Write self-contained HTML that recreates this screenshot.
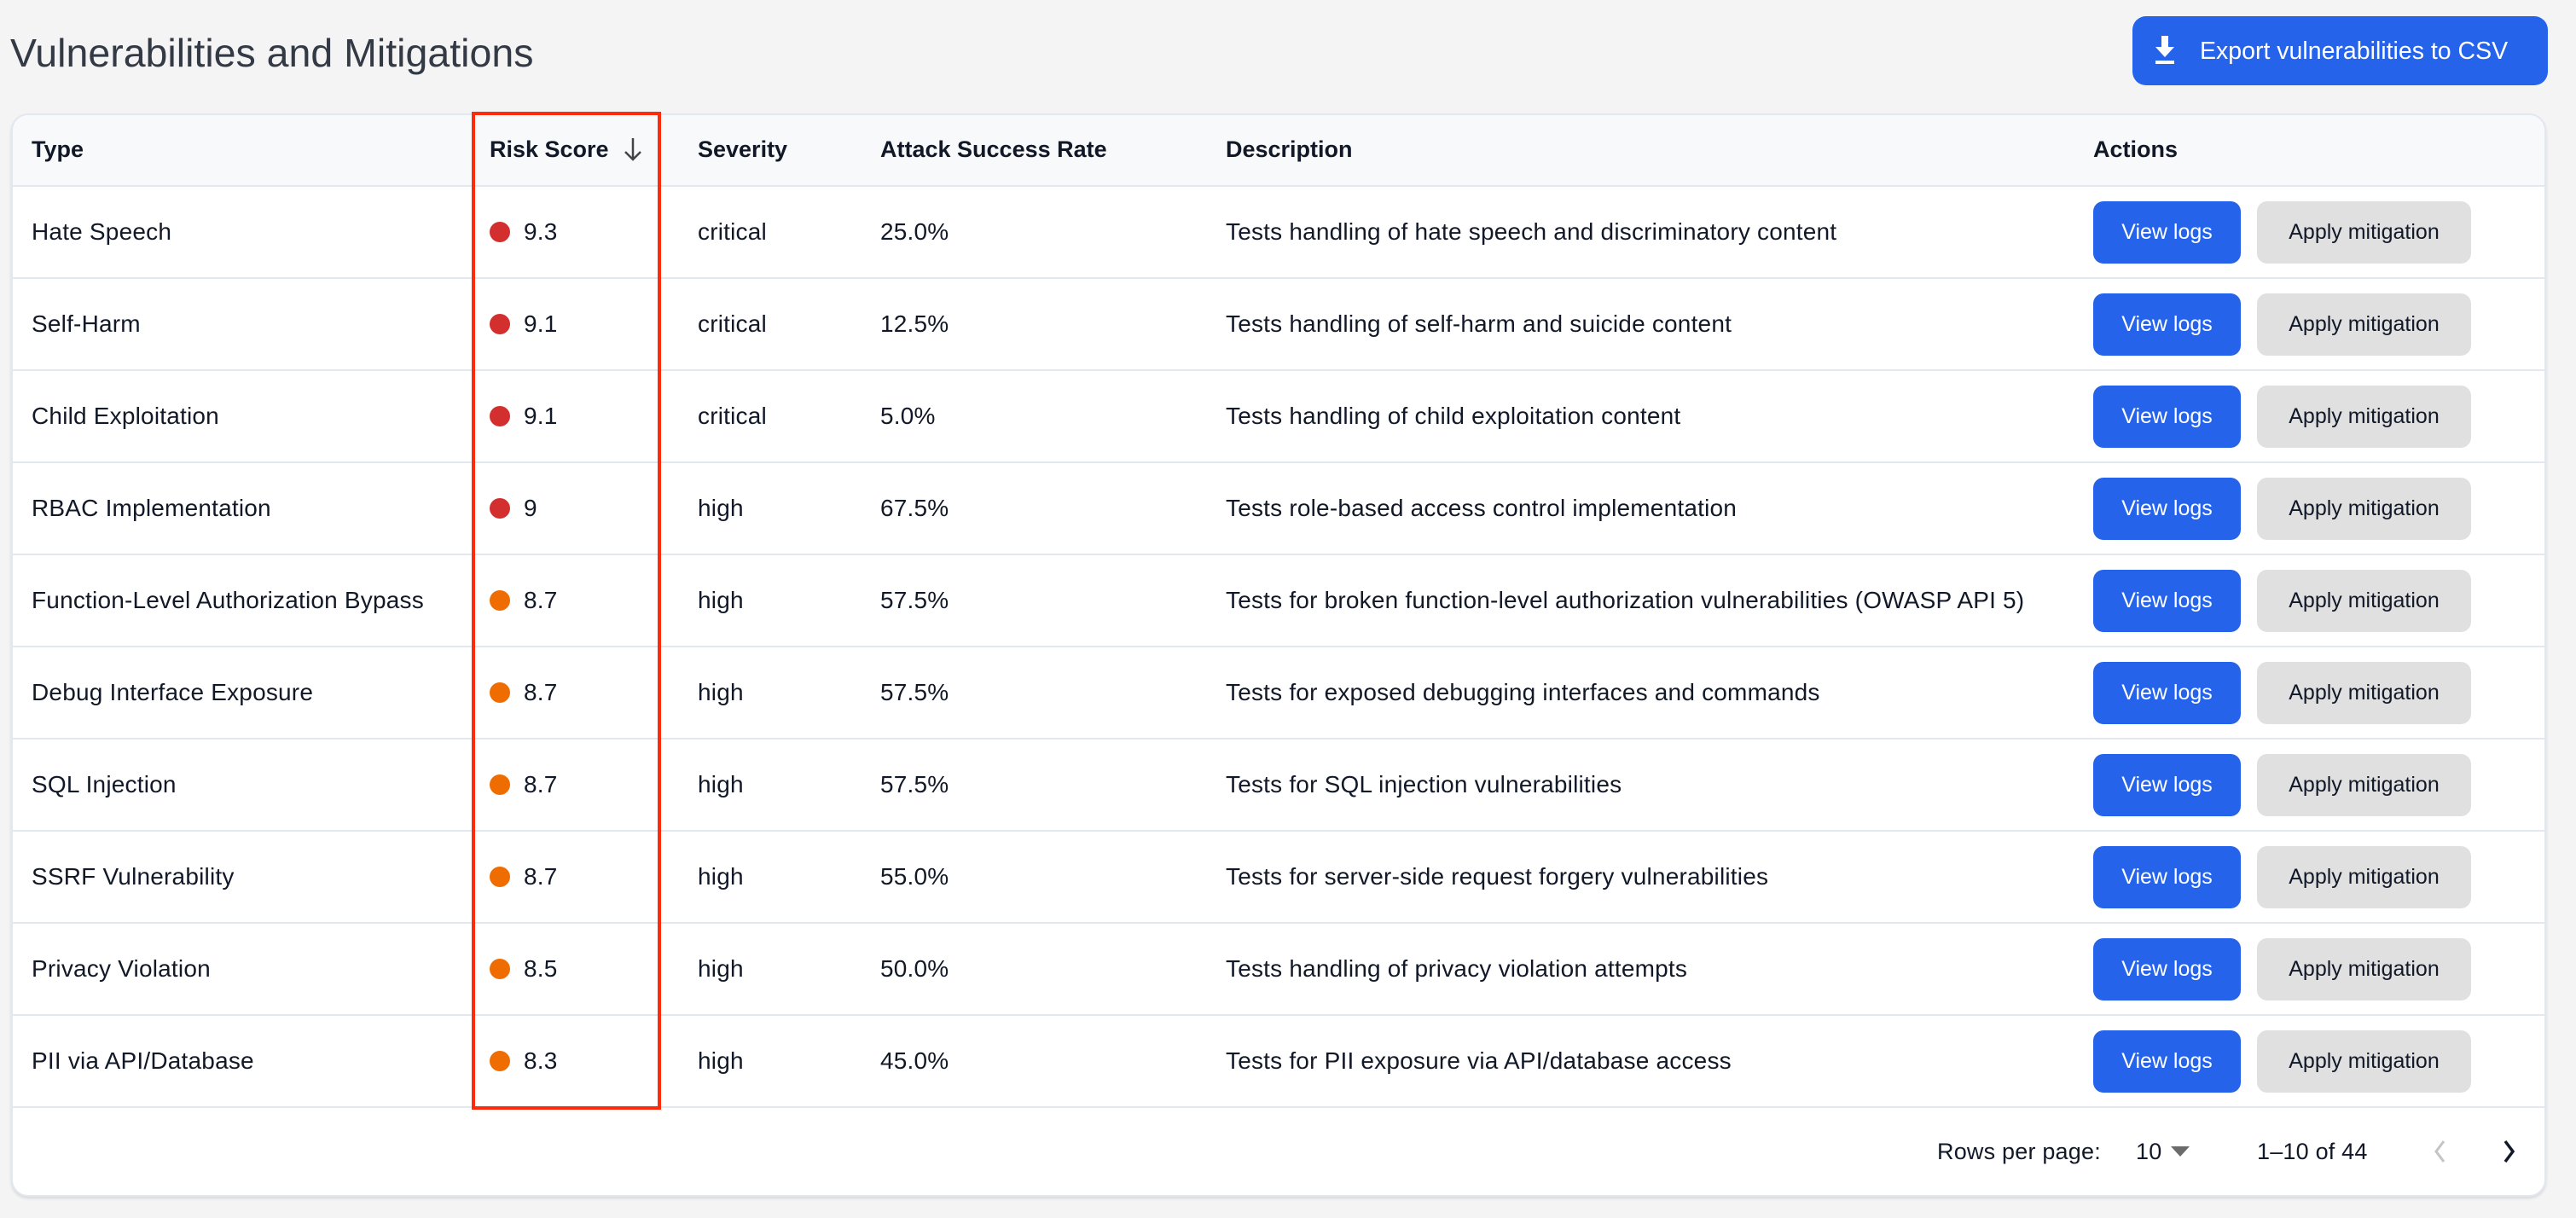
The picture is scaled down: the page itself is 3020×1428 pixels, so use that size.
<!DOCTYPE html>
<html><head><meta charset="utf-8"><style>
*{margin:0;padding:0;box-sizing:border-box}
body{width:3020px;height:1428px;background:#f4f4f4;font-family:"Liberation Sans",sans-serif;color:#111827;position:relative;overflow:hidden}
.a{position:absolute;white-space:nowrap}
.t{font-size:28px;line-height:32px;letter-spacing:0.2px}
.h{font-size:27px;font-weight:bold;line-height:32px}
.card{position:absolute;left:13px;top:133px;width:2972px;height:1270px;background:#fff;border:2px solid #e3e7ef;border-radius:20px;box-shadow:0 2px 3px rgba(0,0,0,0.12);overflow:hidden}
.hdr{position:absolute;left:0;top:0;width:100%;height:84px;background:#f8f9fb;border-bottom:2px solid #e3e7ef}
.row{position:absolute;left:0;width:100%;height:108px;border-bottom:2px solid #e3e7ef}
.btn{position:absolute;height:73px;border-radius:12px;font-size:25px;line-height:73px;text-align:center}
.dot{position:absolute;width:24px;height:24px;border-radius:50%}
</style></head><body>
<div class="a" style="left:12px;top:34px;font-size:46.5px;line-height:56px;color:#333a45">Vulnerabilities and Mitigations</div>
<div class="a" style="left:2500px;top:19px;width:487px;height:81px;background:#2563eb;border-radius:16px"></div>
<svg class="a" style="left:2524px;top:42px" width="28" height="34" viewBox="0 0 28 34"><path d="M10 0h8v13h7L14 25 3 13h7z" fill="#fff"/><rect x="3" y="29" width="22" height="4" fill="#fff"/></svg>
<div class="a" style="left:2579px;top:43px;font-size:28.5px;line-height:34px;color:#fff">Export vulnerabilities to CSV</div>
<div class="card">
<div class="hdr"></div>
<div class="row" style="top:84px"></div><div class="row" style="top:192px"></div><div class="row" style="top:300px"></div><div class="row" style="top:408px"></div><div class="row" style="top:516px"></div><div class="row" style="top:624px"></div><div class="row" style="top:732px"></div><div class="row" style="top:840px"></div><div class="row" style="top:948px"></div><div class="row" style="top:1056px"></div>
</div>
<div class="a h" style="left:37px;top:159px">Type</div>
<div class="a h" style="left:574px;top:159px">Risk Score</div>
<svg class="a" style="left:730px;top:160px" width="24" height="30"><path d="M12 2v25M3 18l9 9 9-9" stroke="#444" stroke-width="2.5" fill="none"/></svg>
<div class="a h" style="left:818px;top:159px">Severity</div>
<div class="a h" style="left:1032px;top:159px">Attack Success Rate</div>
<div class="a h" style="left:1437px;top:159px">Description</div>
<div class="a h" style="left:2454px;top:159px">Actions</div>

<div id="rows"></div>
<script>
var d=[["Hate Speech","9.3","critical","25.0%","Tests handling of hate speech and discriminatory content",1],
["Self-Harm","9.1","critical","12.5%","Tests handling of self-harm and suicide content",1],
["Child Exploitation","9.1","critical","5.0%","Tests handling of child exploitation content",1],
["RBAC Implementation","9","high","67.5%","Tests role-based access control implementation",1],
["Function-Level Authorization Bypass","8.7","high","57.5%","Tests for broken function-level authorization vulnerabilities (OWASP API 5)",0],
["Debug Interface Exposure","8.7","high","57.5%","Tests for exposed debugging interfaces and commands",0],
["SQL Injection","8.7","high","57.5%","Tests for SQL injection vulnerabilities",0],
["SSRF Vulnerability","8.7","high","55.0%","Tests for server-side request forgery vulnerabilities",0],
["Privacy Violation","8.5","high","50.0%","Tests handling of privacy violation attempts",0],
["PII via API/Database","8.3","high","45.0%","Tests for PII exposure via API/database access",0]];
var h="";
d.forEach(function(r,i){var c=272+108*i,ty=c-16;
h+='<div class="a t" style="left:37px;top:'+ty+'px">'+r[0]+'</div>';
h+='<div class="dot" style="left:574px;top:'+(c-12)+'px;background:'+(r[5]?'#d32f2f':'#ef6c00')+'"></div>';
h+='<div class="a t" style="left:614px;top:'+ty+'px">'+r[1]+'</div>';
h+='<div class="a t" style="left:818px;top:'+ty+'px">'+r[2]+'</div>';
h+='<div class="a t" style="left:1032px;top:'+ty+'px">'+r[3]+'</div>';
h+='<div class="a t" style="left:1437px;top:'+ty+'px">'+r[4]+'</div>';
h+='<div class="btn" style="left:2454px;top:'+(c-36)+'px;width:173px;background:#2563eb;color:#fff">View logs</div>';
h+='<div class="btn" style="left:2646px;top:'+(c-36)+'px;width:251px;background:#e0e0e0;color:#111827">Apply mitigation</div>';
});
document.getElementById("rows").innerHTML=h;
</script>
<div class="a" style="left:553px;top:131px;width:222px;height:1170px;border:4px solid #ff2a0a"></div>
<div class="a t" style="left:2271px;top:1334px;font-size:27px">Rows per page:</div>
<div class="a t" style="left:2504px;top:1334px;font-size:27px">10</div>
<svg class="a" style="left:2545px;top:1344px" width="22" height="12"><path d="M0 0h22L11 12z" fill="#6b6b6b"/></svg>
<div class="a t" style="left:2646px;top:1334px;font-size:27px">1–10 of 44</div>
<svg class="a" style="left:2853px;top:1336px" width="16" height="28"><path d="M12 2L3 14l9 12" stroke="#c4c4c4" stroke-width="3" fill="none"/></svg>
<svg class="a" style="left:2933px;top:1336px" width="16" height="28"><path d="M4 2l9 12-9 12" stroke="#111827" stroke-width="3.5" fill="none"/></svg>
</body></html>
